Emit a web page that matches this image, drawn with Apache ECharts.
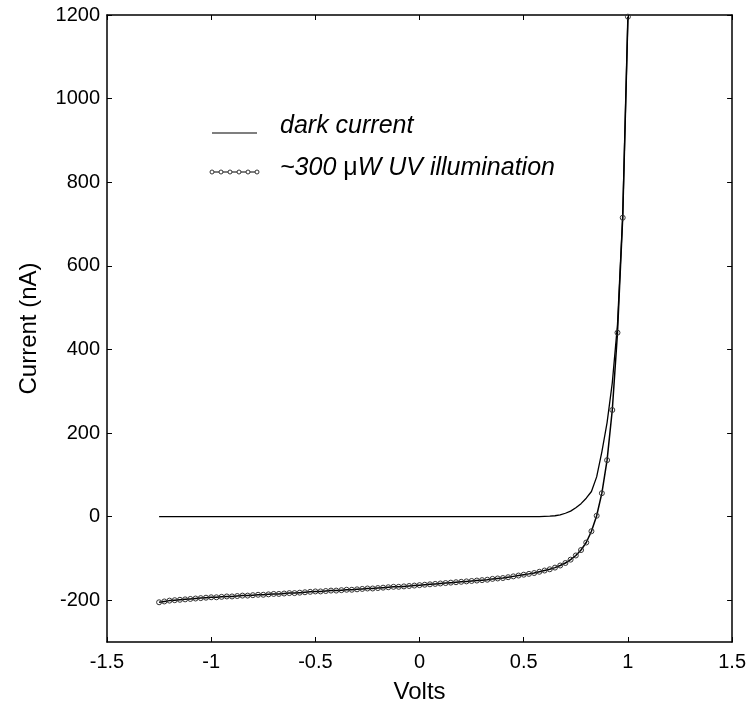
<!DOCTYPE html>
<html>
<head>
<meta charset="utf-8">
<script src="https://cdn.jsdelivr.net/npm/echarts@6/dist/echarts.min.js"></script>
<style>html,body{margin:0;padding:0;background:#fff}#c{width:749px;height:709px}</style>
</head>
<body>
<div id="c"></div>
<script>
// Voltage grid (V)
var volts = [-1.25,-1.225,-1.2,-1.175,-1.15,-1.125,-1.1,-1.075,-1.05,-1.025,
 -1.0,-0.975,-0.95,-0.925,-0.9,-0.875,-0.85,-0.825,-0.8,-0.775,
 -0.75,-0.725,-0.7,-0.675,-0.65,-0.625,-0.6,-0.575,-0.55,-0.525,
 -0.5,-0.475,-0.45,-0.425,-0.4,-0.375,-0.35,-0.325,-0.3,-0.275,
 -0.25,-0.225,-0.2,-0.175,-0.15,-0.125,-0.1,-0.075,-0.05,-0.025,
 0,0.025,0.05,0.075,0.1,0.125,0.15,0.175,0.2,0.225,
 0.25,0.275,0.3,0.325,0.35,0.375,0.4,0.425,0.45,0.475,
 0.5,0.525,0.55,0.575,0.6,0.625,0.65,0.675,0.7,0.725,
 0.75,0.775,0.8,0.825,0.85,0.875,0.9,0.925,0.95,0.975,1.0];

// Dark current (nA)
var darkCurrent = [0,0,0,0,0,0,0,0,0,0,
 0,0,0,0,0,0,0,0,0,0,
 0,0,0,0,0,0,0,0,0,0,
 0,0,0,0,0,0,0,0,0,0,
 0,0,0,0,0,0,0,0,0,0,
 0,0,0,0,0,0,0,0,0,0,
 0,0,0,0,0,0,0,0,0,0,
 0,0,0,0,0.5,1,2,4,8,13,
 21,31,44,60,95,155,225,320,460,720,1196];

// ~300 uW UV illumination (nA)
var uvCurrent = [-205,-203,-201,-200,-199,-198,-197,-196,-195,-194,
 -193,-193,-192,-191,-191,-190,-189,-189,-188,-187,
 -187,-186,-185,-185,-184,-183,-183,-182,-181,-180,
 -179,-179,-178,-177,-177,-176,-175,-175,-174,-173,
 -172,-172,-171,-170,-169,-168,-168,-167,-166,-165,
 -164,-163,-162,-161,-160,-159,-158,-157,-156,-155,
 -154,-153,-152,-151,-149,-148,-147,-145,-143,-141,
 -139,-137,-135,-132,-129,-126,-122,-117,-111,-103,
 -93,-80,-62,-35,2,56,135,255,440,715,1196];

var yTicks = [-200,0,200,400,600,800,1000,1200];
var xTicks = [-1.5,-1,-0.5,0,0.5,1,1.5];
var legendNames = ['dark current', '~300 μW UV illumination'];

function pairs(xs, ys){ return xs.map(function(x,i){ return [x, ys[i]]; }); }

var FONT = 'Liberation Sans, Arial, Helvetica, sans-serif';
var axisLineStyle = {color:'#000', width:1.5};

var chart = echarts.init(document.getElementById('c'), null, {renderer:'canvas'});

var legendX1 = 212, legendX2 = 257;
var circles = [];
for (var k = 0; k < 6; k++) {
  circles.push({type:'circle', shape:{cx: legendX1 + k*(legendX2-legendX1)/5, cy:172, r:2},
    style:{fill:'#fff', stroke:'#333', lineWidth:1}, z:101});
}

chart.setOption({
  animation:false,
  backgroundColor:'#fff',
  grid:{left:107, top:15, right:14, bottom:66, containLabel:false},
  xAxis:[{
    type:'value', min:-1.5, max:1.5, interval:0.5, position:'bottom',
    name:'Volts', nameLocation:'middle', nameGap:38,
    nameTextStyle:{fontFamily:FONT, fontSize:24, color:'#000'},
    axisLine:{show:true, onZero:false, lineStyle:axisLineStyle},
    axisTick:{show:true, inside:true, length:5, lineStyle:{color:'#000', width:1}},
    axisLabel:{fontFamily:FONT, fontSize:20, color:'#000', margin:10,
      formatter:function(v){ return String(v); }},
    splitLine:{show:false}
  },{
    type:'value', min:-1.5, max:1.5, interval:0.5, position:'top',
    axisLine:{show:true, onZero:false, lineStyle:axisLineStyle},
    axisTick:{show:true, inside:true, length:5, lineStyle:{color:'#000', width:1}},
    axisLabel:{show:false}, splitLine:{show:false}
  }],
  yAxis:[{
    type:'value', min:-300, max:1200, position:'left',
    name:'Current (nA)', nameLocation:'middle', nameGap:66, nameRotate:90,
    nameTextStyle:{fontFamily:FONT, fontSize:24, color:'#000'},
    axisLine:{show:true, onZero:false, lineStyle:axisLineStyle},
    axisTick:{show:true, inside:true, length:5, customValues:yTicks, lineStyle:{color:'#000', width:1}},
    axisLabel:{fontFamily:FONT, fontSize:20, color:'#000', margin:7, customValues:yTicks,
      formatter:function(v){ return String(v); }},
    splitLine:{show:false}
  },{
    type:'value', min:-300, max:1200, position:'right',
    axisLine:{show:true, onZero:false, lineStyle:axisLineStyle},
    axisTick:{show:true, inside:true, length:5, customValues:yTicks, lineStyle:{color:'#000', width:1}},
    axisLabel:{show:false, customValues:yTicks}, splitLine:{show:false}
  }],
  series:[{
    name:legendNames[0], type:'line', xAxisIndex:0, yAxisIndex:0,
    data:pairs(volts, darkCurrent), showSymbol:false, symbol:'none',
    lineStyle:{color:'#000', width:1.3}, z:2
  },{
    name:legendNames[1], type:'line', xAxisIndex:0, yAxisIndex:0,
    data:pairs(volts, uvCurrent), showSymbol:true, showAllSymbol:true,
    symbol:'circle', symbolSize:5,
    itemStyle:{color:'rgba(255,255,255,0)', borderColor:'#333', borderWidth:1},
    lineStyle:{color:'#000', width:1.5}, z:3
  }],
  graphic:[
    {type:'line', shape:{x1:legendX1, y1:133, x2:legendX2, y2:133}, style:{stroke:'#000', lineWidth:1.2}, z:100},
    {type:'text', left:280, top:114, z:100,
      style:{text:legendNames[0], fontFamily:FONT, fontSize:25, fontStyle:'italic', fill:'#000'}},
    {type:'line', shape:{x1:legendX1, y1:172, x2:legendX2, y2:172}, style:{stroke:'#000', lineWidth:1.2}, z:100}
  ].concat(circles).concat([
    {type:'text', left:280, top:156, z:100,
      style:{
        text:'{i|~300 }{m|μ}{i|W UV illumination}',
        rich:{
          i:{fontFamily:FONT, fontSize:25, fontStyle:'italic', fill:'#000'},
          m:{fontFamily:FONT, fontSize:25, fontStyle:'normal', fill:'#000'}
        }
      }}
  ])
});
</script>
</body>
</html>
